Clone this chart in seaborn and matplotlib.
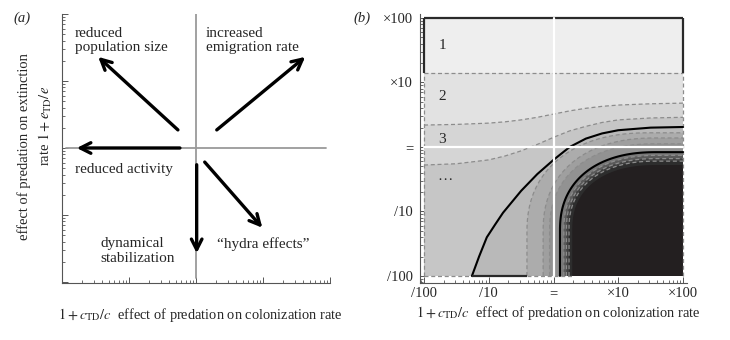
import numpy as np
import matplotlib
matplotlib.use("Agg")
import matplotlib.pyplot as plt
from matplotlib.ticker import LogLocator, NullFormatter
import seaborn as sns
import pandas as pd

# ---------------- data (all positions in log10 units of the multiplier) ----------------
# panel (a): arrows and their labels
arrow_x0 = [-0.27, 0.31, -0.24, 0.01, 0.13]
arrow_y0 = [0.27, 0.27, 0.00, -0.25, -0.21]
arrow_x1 = [-1.46, 1.63, -1.78, 0.01, 0.99]
arrow_y1 = [1.36, 1.36, 0.00, -1.57, -1.19]
label_text = ["reduced\npopulation size", "increased\nemigration rate", "reduced activity",
              "dynamical\nstabilization", "\u201chydra effects\u201d"]
label_x = [-1.81, 0.15, -1.81, -1.43, 0.31]
label_y = [1.81, 1.81, -0.22, -1.33, -1.33]

# panel (b): contour boundaries
level1_v = 1.15
curve_u = [-2.0, -1.5, -1.0, -0.75, -0.5, -0.25, 0.0, 0.25, 0.5, 0.75, 1.0, 1.5, 2.0]
curve2_v = [0.34, 0.35, 0.37, 0.39, 0.42, 0.46, 0.51, 0.56, 0.60, 0.63, 0.65, 0.67, 0.68]
curve3_v = [-0.28, -0.26, -0.20, -0.14, -0.06, 0.04, 0.15, 0.25, 0.32, 0.38, 0.42, 0.45, 0.46]
solid_u = [-1.26, -1.15, -1.03, -0.90, -0.78, -0.50, -0.25, 0.0, 0.25, 0.5, 0.75, 1.0, 1.5, 2.0]
solid_v = [-2.0, -1.70, -1.40, -1.20, -1.02, -0.68, -0.42, -0.20, 0.0, 0.13, 0.21, 0.26, 0.30, 0.31]
corner_a = [-0.41, -0.16, -0.06, 0.10, 0.16, 0.20, 0.24, 0.29]
corner_b = [0.22, 0.14, 0.05, -0.08, -0.13, -0.18, -0.22, -0.28]
corner_ru = [1.90, 1.75, 1.65, 1.50, 1.45, 1.40, 1.35, 1.30]
corner_rv = [1.55, 1.45, 1.35, 1.22, 1.15, 1.10, 1.05, 1.00]
corner_solid = [False, False, False, True, False, False, False, False]
band_colors = ["#eeeeee", "#e2e2e2", "#d5d5d5", "#c6c6c6", "#b9b9b9", "#acacac",
               "#9f9f9f", "#929292", "#787878", "#5a5a5a", "#404040", "#2d2d2d", "#231f20"]
region_labels = ["1", "2", "3", "\u2026"]
region_lab_u = [-1.72, -1.72, -1.72, -1.68]
region_lab_v = [1.58, 0.78, 0.11, -0.46]
tick_vals = [1e-2, 1e-1, 1.0, 1e1, 1e2]
tick_text = ["/100", "/10", "=", "\u00d710", "\u00d7100"]

# ---------------- style ----------------
sns.set_style("ticks")
plt.rcParams['font.family'] = ['Liberation Serif', 'DejaVu Serif']
plt.rcParams['mathtext.fontset'] = 'stix'

fig = plt.figure(figsize=(7.3, 3.4), dpi=100)
axA = fig.add_axes([62/730, 1-283/340, 268/730, 269/340])
axB = fig.add_axes([420/730, 1-283/340, 267/730, 269/340])

P = lambda a: 10.0 ** np.asarray(a, dtype=float)
GREY_DASH = "#8c8c8c"
DASH = (0, (3.2, 2.2))

for ax in (axA, axB):
    ax.set_xscale("log")
    ax.set_yscale("log")
    for s in ("top", "right"):
        ax.spines[s].set_visible(False)
    for s in ("left", "bottom"):
        ax.spines[s].set_color("#555555")
        ax.spines[s].set_linewidth(0.8)
    for axis in (ax.xaxis, ax.yaxis):
        axis.set_minor_locator(LogLocator(base=10, subs=np.arange(2, 10)))
        axis.set_minor_formatter(NullFormatter())
    ax.tick_params(which="major", direction="in", length=4, width=0.7, color="#555555")
    ax.tick_params(which="minor", direction="in", length=2, width=0.6, color="#555555")

# ---------------- panel (a) ----------------
axA.set_xlim(P(-2.0), P(2.0))
axA.set_ylim(P(-2.015), P(2.0))
axA.tick_params(which="both", labelleft=False, labelbottom=False)
axA.plot(P([-1.94, 1.94]), P([0, 0]), color="#9a9a9a", lw=1.3, zorder=1)
axA.plot(P([0, 0]), P([-1.94, 2.0]), color="#9a9a9a", lw=1.3, zorder=1)
for x0, y0, x1, y1 in zip(arrow_x0, arrow_y0, arrow_x1, arrow_y1):
    axA.annotate("", xy=(P(x1), P(y1)), xytext=(P(x0), P(y0)),
                 arrowprops=dict(arrowstyle="->,head_length=0.75,head_width=0.38",
                                 lw=2.4, color="black", shrinkA=0, shrinkB=0), zorder=3)
for t, x, y in zip(label_text, label_x, label_y):
    axA.text(P(x), P(y), t, ha="left", va="top", fontsize=11, linespacing=1.15)

fig.text(22/730, 1-18/340, "(a)", fontsize=10.5, style="italic", ha="center", va="center")
fig.text(24/730, 1-147/340, "effect of predation on extinction", rotation=90,
         fontsize=10.5, ha="center", va="center")
fig.text(45/730, 1-126/340, r"rate $1+e_{\mathrm{TD}}/e$", rotation=90,
         fontsize=10.5, ha="center", va="center")
fig.text(200/730, 1-315/340, r"$1+c_{\mathrm{TD}}/c$  effect of predation on colonization rate",
         fontsize=10.4, ha="center", va="center")

# ---------------- panel (b) ----------------
axB.set_xlim(P(-2.062), P(2.062))
axB.set_ylim(P(-2.109), P(2.062))
axB.set_xticks(tick_vals)
axB.set_xticklabels(tick_text)
axB.set_yticks(tick_vals)
axB.set_yticklabels(tick_text)
axB.tick_params(axis="x", which="major", pad=3, labelsize=10.5)
axB.tick_params(axis="y", which="major", pad=5, labelsize=10.5)

def fill(ax, u, v, color, z):
    ax.fill(P(u), P(v), color=color, lw=0, zorder=z)

# region 1 (whole frame), region 2, region 3, region 4, region 5
fill(axB, [-2, 2, 2, -2], [-2, -2, 2, 2], band_colors[0], 1)
fill(axB, [-2, 2, 2, -2], [-2, -2, level1_v, level1_v], band_colors[1], 1.1)
fill(axB, curve_u + [2, -2], curve2_v + [-2, -2], band_colors[2], 1.2)
fill(axB, curve_u + [2, -2], curve3_v + [-2, -2], band_colors[3], 1.3)
fill(axB, solid_u + [2], solid_v + [-2], band_colors[4], 1.4)

def corner_path(a, b, ru, rv, n=2.3, m=80):
    t = np.linspace(0, np.pi / 2, m)
    cx, cy = a + ru, b - rv
    uu = cx - ru * np.cos(t) ** (2 / n)
    vv = cy + rv * np.sin(t) ** (2 / n)
    return (np.concatenate([[a], uu, [2.0]]), np.concatenate([[-2.0], vv, [b]]))

corner_paths = [corner_path(a, b, ru, rv) for a, b, ru, rv in
                zip(corner_a, corner_b, corner_ru, corner_rv)]
for i, (uu, vv) in enumerate(corner_paths):
    fill(axB, list(uu) + [2], list(vv) + [-2], band_colors[5 + i], 1.5 + 0.01 * i)

# contour lines
axB.plot(P([-2, 2]), P([level1_v, level1_v]), color=GREY_DASH, lw=0.9, ls=DASH, zorder=3)
df2 = pd.DataFrame({"x": P(curve_u), "y": P(curve2_v)})
df3 = pd.DataFrame({"x": P(curve_u), "y": P(curve3_v)})
dfs = pd.DataFrame({"x": P(solid_u), "y": P(solid_v)})
sns.lineplot(data=df2, x="x", y="y", ax=axB, color=GREY_DASH, lw=0.9, linestyle=DASH,
             sort=False, estimator=None, zorder=3)
sns.lineplot(data=df3, x="x", y="y", ax=axB, color=GREY_DASH, lw=0.9, linestyle=DASH,
             sort=False, estimator=None, zorder=3)
sns.lineplot(data=dfs, x="x", y="y", ax=axB, color="black", lw=1.5,
             sort=False, estimator=None, zorder=4)
axB.set_xlabel("")
axB.set_ylabel("")
for (uu, vv), solid in zip(corner_paths[:-1], corner_solid[:-1]):
    if solid:
        axB.plot(P(uu), P(vv), color="black", lw=1.5, zorder=4)
    else:
        axB.plot(P(uu), P(vv), color=GREY_DASH, lw=0.9, ls=DASH, zorder=3)

# frame edges
edge = dict(color="#2a2a2a", lw=1.6, zorder=5, solid_capstyle="butt")
axB.plot(P([-2, 2]), P([2, 2]), **edge)
axB.plot(P([-2, -2]), P([level1_v, 2]), **edge)
axB.plot(P([2, 2]), P([level1_v, 2]), **edge)
axB.plot(P([solid_u[0], corner_a[0]]), P([-2, -2]), **edge)
dedge = dict(color=GREY_DASH, lw=0.9, ls=DASH, zorder=3)
axB.plot(P([-2, -2]), P([-2, level1_v]), **dedge)
axB.plot(P([2, 2]), P([-2, level1_v]), **dedge)
axB.plot(P([-2, solid_u[0]]), P([-2, -2]), **dedge)
axB.plot(P([corner_a[0], corner_a[-1]]), P([-2, -2]), **dedge)

# white cross-hairs
axB.plot(P([0, 0]), P([-2, 2]), color="white", lw=1.6, zorder=6)
axB.plot(P([-2, 2]), P([0, 0]), color="white", lw=1.6, zorder=6)

for t, u, v in zip(region_labels, region_lab_u, region_lab_v):
    axB.text(P(u), P(v), t, fontsize=11, ha="center", va="center", zorder=7)

fig.text(362/730, 1-18/340, "(b)", fontsize=10.5, style="italic", ha="center", va="center")
fig.text(558/730, 1-313/340, r"$1+c_{\mathrm{TD}}/c$  effect of predation on colonization rate",
         fontsize=10.4, ha="center", va="center")

fig.savefig("out.png", dpi=100)
